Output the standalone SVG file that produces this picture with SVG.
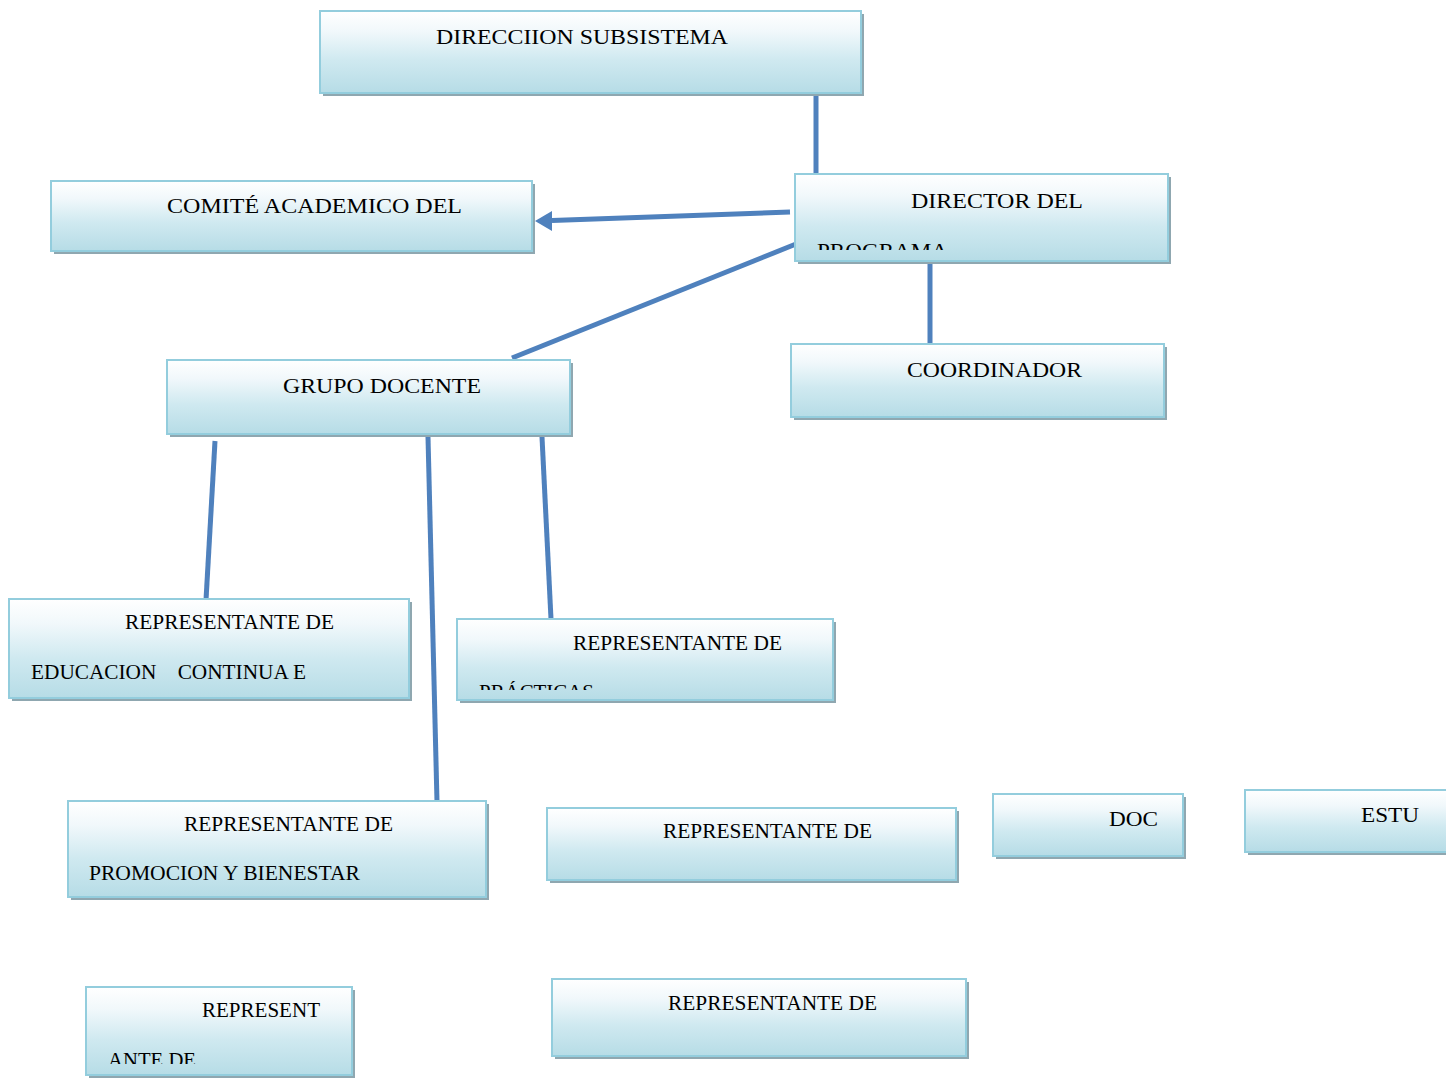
<svg xmlns="http://www.w3.org/2000/svg" width="1446" height="1078" viewBox="0 0 1446 1078">
<style>
.sh{fill:#8fa7b0}
.bx{fill:url(#g);stroke:#93cddd;stroke-width:2}
.t{font-family:"Liberation Serif","Times New Roman",serif;font-size:20px;fill:#000}
.c{stroke:#4f81bd;stroke-width:5;fill:none}
</style>
<defs>
<linearGradient id="g" x1="0" y1="0" x2="0" y2="1">
<stop offset="0" stop-color="#ffffff"/>
<stop offset="0.25" stop-color="#f1f8fb"/>
<stop offset="0.6" stop-color="#cfe9f0"/>
<stop offset="1" stop-color="#b6dce6"/>
</linearGradient>
<clipPath id="cp1"><rect x="795" y="174" width="373" height="76"/></clipPath>
<clipPath id="cp2"><rect x="457" y="619" width="376" height="71"/></clipPath>
<clipPath id="cp3"><rect x="86" y="987" width="266" height="77"/></clipPath>
</defs>
<g id="connectors">
<line class="c" x1="816" y1="93" x2="816" y2="174"/>
<line class="c" x1="790" y1="212" x2="552" y2="220.5"/>
<path d="M535,221 L552,211 L552,231 z" fill="#4f81bd"/>
<line class="c" x1="796" y1="244" x2="512" y2="358"/>
<line class="c" x1="930" y1="261" x2="930" y2="344"/>
<line class="c" x1="215" y1="441" x2="206" y2="600"/>
<line class="c" x1="428" y1="437" x2="437" y2="802"/>
<line class="c" x1="542" y1="437" x2="551" y2="619"/>
</g>
<g id="n1"><rect class="sh" x="323" y="14" width="541" height="82"/><rect class="bx" x="320" y="11" width="541" height="82"/><text class="t" x="436" y="44" textLength="292" lengthAdjust="spacingAndGlyphs">DIRECCIION SUBSISTEMA</text></g>
<g id="n2"><rect class="sh" x="54" y="184" width="481" height="70"/><rect class="bx" x="51" y="181" width="481" height="70"/><text class="t" x="167" y="213" textLength="295" lengthAdjust="spacingAndGlyphs">COMITÉ ACADEMICO DEL</text></g>
<g id="n3"><rect class="sh" x="798" y="177" width="373" height="87"/><rect class="bx" x="795" y="174" width="373" height="87"/><text class="t" x="911" y="208" textLength="172" lengthAdjust="spacingAndGlyphs">DIRECTOR DEL</text><text class="t" x="817" y="258" textLength="131" lengthAdjust="spacingAndGlyphs" clip-path="url(#cp1)">PROGRAMA</text></g>
<g id="n4"><rect class="sh" x="794" y="347" width="373" height="73"/><rect class="bx" x="791" y="344" width="373" height="73"/><text class="t" x="907" y="377" textLength="175" lengthAdjust="spacingAndGlyphs">COORDINADOR</text></g>
<g id="n5"><rect class="sh" x="170" y="363" width="403" height="74"/><rect class="bx" x="167" y="360" width="403" height="74"/><text class="t" x="283" y="393" textLength="198" lengthAdjust="spacingAndGlyphs">GRUPO DOCENTE</text></g>
<g id="n6"><rect class="sh" x="12" y="602" width="400" height="99"/><rect class="bx" x="9" y="599" width="400" height="99"/><text class="t" x="125" y="629" textLength="209" lengthAdjust="spacingAndGlyphs">REPRESENTANTE DE</text><text class="t" x="31" y="679" xml:space="preserve" textLength="275" lengthAdjust="spacingAndGlyphs">EDUCACION    CONTINUA E</text></g>
<g id="n7"><rect class="sh" x="460" y="622" width="376" height="81"/><rect class="bx" x="457" y="619" width="376" height="81"/><text class="t" x="573" y="650" textLength="209" lengthAdjust="spacingAndGlyphs">REPRESENTANTE DE</text><text class="t" x="479" y="699" textLength="115" lengthAdjust="spacingAndGlyphs" clip-path="url(#cp2)">PRÁCTICAS</text></g>
<g id="n8"><rect class="sh" x="71" y="804" width="418" height="96"/><rect class="bx" x="68" y="801" width="418" height="96"/><text class="t" x="184" y="831" textLength="209" lengthAdjust="spacingAndGlyphs">REPRESENTANTE DE</text><text class="t" x="89" y="880" textLength="271" lengthAdjust="spacingAndGlyphs">PROMOCION Y BIENESTAR</text></g>
<g id="n9"><rect class="sh" x="550" y="811" width="409" height="72"/><rect class="bx" x="547" y="808" width="409" height="72"/><text class="t" x="663" y="838" textLength="209" lengthAdjust="spacingAndGlyphs">REPRESENTANTE DE</text></g>
<g id="n10"><rect class="sh" x="996" y="797" width="190" height="62"/><rect class="bx" x="993" y="794" width="190" height="62"/><text class="t" x="1109" y="826" textLength="49" lengthAdjust="spacingAndGlyphs">DOC</text></g>
<g id="n11"><rect class="sh" x="1248" y="793" width="210" height="62"/><rect class="bx" x="1245" y="790" width="210" height="62"/><text class="t" x="1361" y="822" textLength="58" lengthAdjust="spacingAndGlyphs">ESTU</text></g>
<g id="n12"><rect class="sh" x="89" y="990" width="266" height="88"/><rect class="bx" x="86" y="987" width="266" height="88"/><text class="t" x="202" y="1017" textLength="118" lengthAdjust="spacingAndGlyphs">REPRESENT</text><text class="t" x="108" y="1067" textLength="88" lengthAdjust="spacingAndGlyphs" clip-path="url(#cp3)">ANTE DE</text></g>
<g id="n13"><rect class="sh" x="555" y="982" width="414" height="77"/><rect class="bx" x="552" y="979" width="414" height="77"/><text class="t" x="668" y="1010" textLength="209" lengthAdjust="spacingAndGlyphs">REPRESENTANTE DE</text></g>
</svg>
